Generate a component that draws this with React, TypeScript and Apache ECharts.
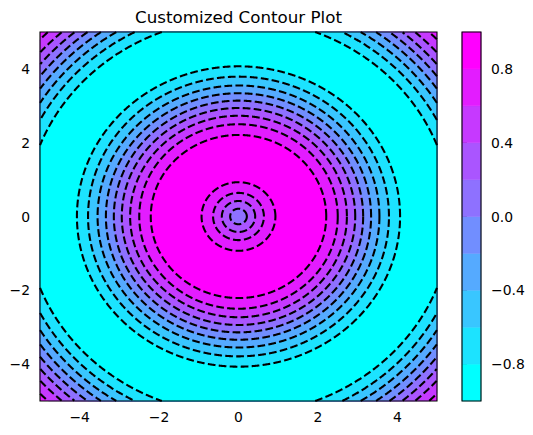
import React, { useEffect, useRef } from "react";
import * as echarts from "echarts";

const titleText = "Customized Contour Plot";
const xRange = [-5, 5];
const yRange = [-5, 5];
const xTicks = [-4, -2, 0, 2, 4];
const yTicks = [-4, -2, 0, 2, 4];
const colorbarTicks = [-0.8, -0.4, 0.0, 0.4, 0.8];
const bandLevels = [-1.0, -0.8, -0.6, -0.4, -0.2, 0.0, 0.2, 0.4, 0.6, 0.8, 1.0];

// contour rings (radius in data units, level)
const contourRadius = [0.21, 0.42, 0.64, 0.93, 2.21, 2.5, 2.73, 2.94, 3.14, 3.34, 3.55, 3.79, 4.07, 5.36, 5.64, 5.87, 6.08, 6.28, 6.48, 6.69, 6.93];
const contourLevel = [0.2, 0.4, 0.6, 0.8, 0.8, 0.6, 0.4, 0.2, 0.0, -0.2, -0.4, -0.6, -0.8, -0.8, -0.6, -0.4, -0.2, 0.0, 0.2, 0.4, 0.6];
// lower bound of the filled band just inside each ring
const bandInside = [0.0, 0.2, 0.4, 0.6, 0.8, 0.6, 0.4, 0.2, 0.0, -0.2, -0.4, -0.6, -0.8, -1.0, -0.8, -0.6, -0.4, -0.2, 0.0, 0.2, 0.4];
// band beyond the outermost ring (corners)
const bandOutside = 0.6;

const nBands = bandLevels.length - 1;
function bandColor(low: number): string {
  const idx = Math.round((low - bandLevels[0]) / (bandLevels[1] - bandLevels[0]));
  const t = idx / (nBands - 1);
  const r = Math.round(255 * t);
  const g = Math.round(255 * (1 - t));
  return `rgb(${r},${g},255)`;
}

const minus = (s: string) => s.replace("-", "\u2212");
const FONT = "DejaVu Sans";

export default function App() {
  const ref = useRef<HTMLDivElement>(null);
  useEffect(() => {
    if (!ref.current) return;
    const chart = echarts.init(ref.current, undefined, { renderer: "svg" });

    const clampX = (v: number) => Math.max(xRange[0], Math.min(xRange[1], v));
    const clampY = (v: number) => Math.max(yRange[0], Math.min(yRange[1], v));

    // order fills from the largest ring to the smallest
    const order = contourRadius.map((_, i) => i).sort((a, b) => contourRadius[b] - contourRadius[a]);
    const fillData = order.map((i) => [contourRadius[i], bandInside[i]]);
    const lineData = contourRadius.map((r, i) => [r, contourLevel[i]]);
    const cbData = bandLevels.slice(0, -1).map((lo, i) => [lo, bandLevels[i + 1]]);

    const option: any = {
      animation: false,
      backgroundColor: "#fff",
      graphic: [
        {
          type: "text",
          x: 238.5,
          y: 17,
          style: {
            text: titleText,
            fill: "#000",
            font: `16.7px "${FONT}"`,
            textAlign: "center",
            textVerticalAlign: "middle",
          },
        },
      ],
      grid: [
        { left: 40, top: 32, width: 397, height: 369 },
        { left: 462, top: 32, width: 19, height: 369 },
      ],
      xAxis: [
        {
          gridIndex: 0,
          type: "value",
          min: xRange[0],
          max: xRange[1],
          axisLine: { show: false },
          splitLine: { show: false },
          axisTick: {
            show: true,
            length: 5,
            customValues: xTicks,
            lineStyle: { color: "#000", width: 1 },
          },
          axisLabel: {
            customValues: xTicks,
            margin: 9,
            color: "#000",
            fontFamily: FONT,
            fontSize: 13.9,
            formatter: (v: number) => minus(String(v)),
          },
        },
        {
          gridIndex: 1,
          type: "value",
          min: 0,
          max: 1,
          show: false,
        },
      ],
      yAxis: [
        {
          gridIndex: 0,
          type: "value",
          min: yRange[0],
          max: yRange[1],
          axisLine: { show: false },
          splitLine: { show: false },
          axisTick: {
            show: true,
            length: 5,
            customValues: yTicks,
            lineStyle: { color: "#000", width: 1 },
          },
          axisLabel: {
            customValues: yTicks,
            margin: 10,
            color: "#000",
            fontFamily: FONT,
            fontSize: 13.9,
            formatter: (v: number) => minus(String(v)),
          },
        },
        {
          gridIndex: 1,
          type: "value",
          position: "right",
          min: bandLevels[0],
          max: bandLevels[bandLevels.length - 1],
          axisLine: { show: false },
          splitLine: { show: false },
          axisTick: {
            show: true,
            length: 5,
            customValues: colorbarTicks,
            lineStyle: { color: "#000", width: 1 },
          },
          axisLabel: {
            customValues: colorbarTicks,
            margin: 10,
            color: "#000",
            fontFamily: FONT,
            fontSize: 13.9,
            formatter: (v: number) => minus(v.toFixed(1)),
          },
        },
      ],
      series: [
        {
          type: "custom",
          name: "background",
          xAxisIndex: 0,
          yAxisIndex: 0,
          data: [[bandOutside]],
          renderItem: (params: any, api: any) => {
            const p0 = api.coord([xRange[0], yRange[1]]);
            const p1 = api.coord([xRange[1], yRange[0]]);
            return {
              type: "rect",
              shape: { x: p0[0], y: p0[1], width: p1[0] - p0[0], height: p1[1] - p0[1] },
              style: { fill: bandColor(api.value(0)) },
            };
          },
        },
        {
          type: "custom",
          name: "fills",
          xAxisIndex: 0,
          yAxisIndex: 0,
          data: fillData,
          renderItem: (params: any, api: any) => {
            const r = api.value(0);
            const low = api.value(1);
            const pts: number[][] = [];
            const n = 720;
            for (let k = 0; k < n; k++) {
              const a = (2 * Math.PI * k) / n;
              pts.push(api.coord([clampX(r * Math.cos(a)), clampY(r * Math.sin(a))]));
            }
            return {
              type: "polygon",
              shape: { points: pts },
              style: { fill: bandColor(low), stroke: bandColor(low), lineWidth: 0.5 },
            };
          },
        },
        {
          type: "custom",
          name: "contours",
          xAxisIndex: 0,
          yAxisIndex: 0,
          data: lineData,
          renderItem: (params: any, api: any) => {
            const r = api.value(0);
            const n = 2880;
            const inside = (a: number) => {
              const x = r * Math.cos(a);
              const y = r * Math.sin(a);
              return x >= xRange[0] && x <= xRange[1] && y >= yRange[0] && y <= yRange[1];
            };
            const angles: number[] = [];
            for (let k = 0; k < n; k++) angles.push((2 * Math.PI * k) / n);
            let start = -1;
            for (let k = 0; k < n; k++) if (!inside(angles[k])) { start = k; break; }
            const runs: number[][][] = [];
            if (start < 0) {
              const pts = angles.map((a) => api.coord([r * Math.cos(a), r * Math.sin(a)]));
              pts.push(pts[0]);
              runs.push(pts);
            } else {
              let cur: number[][] = [];
              for (let j = 0; j <= n; j++) {
                const a = angles[(start + j) % n];
                if (inside(a)) {
                  cur.push(api.coord([r * Math.cos(a), r * Math.sin(a)]));
                } else if (cur.length) {
                  runs.push(cur);
                  cur = [];
                }
              }
              if (cur.length) runs.push(cur);
            }
            return {
              type: "group",
              children: runs.map((pts) => ({
                type: "polyline",
                shape: { points: pts },
                style: { stroke: "#000", lineWidth: 2.08, fill: null, lineDash: [7.7, 3.3] },
              })),
            };
          },
        },
        {
          type: "custom",
          name: "frame",
          xAxisIndex: 0,
          yAxisIndex: 0,
          data: [[0]],
          renderItem: (params: any, api: any) => {
            const p0 = api.coord([xRange[0], yRange[1]]);
            const p1 = api.coord([xRange[1], yRange[0]]);
            return {
              type: "rect",
              shape: { x: p0[0], y: p0[1], width: p1[0] - p0[0], height: p1[1] - p0[1] },
              style: { fill: null, stroke: "#000", lineWidth: 1.1 },
            };
          },
        },
        {
          type: "custom",
          name: "colorbar",
          xAxisIndex: 1,
          yAxisIndex: 1,
          data: cbData,
          renderItem: (params: any, api: any) => {
            const lo = api.value(0);
            const hi = api.value(1);
            const p0 = api.coord([0, hi]);
            const p1 = api.coord([1, lo]);
            return {
              type: "rect",
              shape: { x: p0[0], y: p0[1], width: p1[0] - p0[0], height: p1[1] - p0[1] },
              style: { fill: bandColor(lo), stroke: bandColor(lo), lineWidth: 0.5 },
            };
          },
        },
        {
          type: "custom",
          name: "colorbarFrame",
          xAxisIndex: 1,
          yAxisIndex: 1,
          data: [[bandLevels[0], bandLevels[bandLevels.length - 1]]],
          renderItem: (params: any, api: any) => {
            const p0 = api.coord([0, api.value(1)]);
            const p1 = api.coord([1, api.value(0)]);
            return {
              type: "rect",
              shape: { x: p0[0], y: p0[1], width: p1[0] - p0[0], height: p1[1] - p0[1] },
              style: { fill: null, stroke: "#000", lineWidth: 1.1 },
            };
          },
        },
      ],
    };
    chart.setOption(option);
    return () => chart.dispose();
  }, []);
  return (
    <div
      ref={ref}
      style={{ position: "fixed", left: 0, top: 0, width: 533, height: 435, background: "#fff" }}
    />
  );
}
